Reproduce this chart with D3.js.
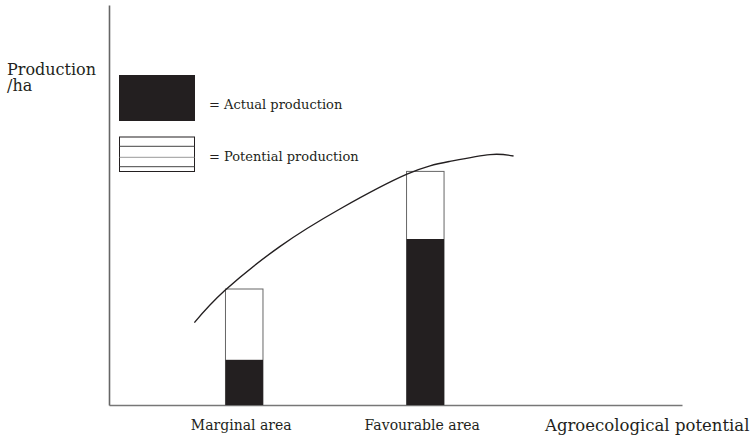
<!DOCTYPE html>
<html lang="en">
<head>
    <meta charset="UTF-8">
    <title>Agroecological potential</title>
    <script src="https://d3js.org/d3.v7.min.js"></script>
    <style>
        body { margin: 0; background: #fff; }
        text { font-family: "DejaVu Serif", serif; fill: #231f20; }
    </style>
</head>
<body>
    <svg></svg>

    <script>
        // data
        const areas = ['Marginal area', 'Favourable area'];
        const areaPotential = [23.6, 55.2];      // position along x (agroecological potential)
        const actualProd = [11.3, 41.5];
        const potentialProd = [29, 58.4];

        const curveX = [14.9, 20.2, 29.8, 40.3, 52.0, 59.5, 66.5, 70.6];
        const curveY = [20.6, 28.6, 39.6, 49.0, 57.7, 60.9, 62.6, 62.25];

        const width = 752;
        const height = 437;
        const margin = {'top': 5, 'bottom': 32, 'left': 109, 'right': 70};
        const ink = '#231f20';

        const svg = d3.select('svg')
            .attr('width', width)
            .attr('height', height)
            .attr('viewBox', [0, 0, width, height]);

        const x_scale = d3.scaleLinear().domain([0, 100]).range([margin.left, width - margin.right]);
        const y_scale = d3.scaleLinear().domain([0, 100]).range([height - margin.bottom, margin.top]);

        const barW = 37.5;

        // axes, no ticks
        svg.append('g')
            .attr('transform', `translate(0,${y_scale(0)})`)
            .call(d3.axisBottom(x_scale).tickValues([]).tickSizeOuter(0))
            .select('.domain').attr('stroke', '#777').attr('stroke-width', 1.6);

        svg.append('g')
            .attr('transform', `translate(${x_scale(0)},0)`)
            .call(d3.axisLeft(y_scale).tickValues([]).tickSizeOuter(0))
            .select('.domain').attr('stroke', '#666').attr('stroke-width', 1.6);

        // potential bars (outline)
        svg.selectAll('rect.pot')
            .data(areas)
            .join('rect')
            .attr('class', 'pot')
            .attr('x', (d, i) => x_scale(areaPotential[i]) - barW / 2)
            .attr('y', (d, i) => y_scale(potentialProd[i]))
            .attr('width', barW)
            .attr('height', (d, i) => y_scale(0) - y_scale(potentialProd[i]))
            .attr('fill', '#fff')
            .attr('stroke', '#666')
            .attr('stroke-width', 1);

        // actual bars
        svg.selectAll('rect.act')
            .data(areas)
            .join('rect')
            .attr('class', 'act')
            .attr('x', (d, i) => x_scale(areaPotential[i]) - barW / 2)
            .attr('y', (d, i) => y_scale(actualProd[i]))
            .attr('width', barW)
            .attr('height', (d, i) => y_scale(0) - y_scale(actualProd[i]))
            .attr('fill', ink);

        // curve
        const line = d3.line()
            .x((d, i) => x_scale(curveX[i]))
            .y((d, i) => y_scale(curveY[i]))
            .curve(d3.curveNatural);

        svg.append('path')
            .datum(curveX)
            .attr('d', line)
            .attr('fill', 'none')
            .attr('stroke', ink)
            .attr('stroke-width', 1.4);

        // category labels
        svg.selectAll('text.cat')
            .data(areas)
            .join('text')
            .attr('class', 'cat')
            .attr('x', (d, i) => x_scale(areaPotential[i]) - 3)
            .attr('y', 430)
            .attr('text-anchor', 'middle')
            .style('font-size', '14px')
            .text(d => d);

        svg.append('text')
            .attr('x', 545).attr('y', 431)
            .style('font-size', '16.5px')
            .text('Agroecological potential');

        // y title on two lines
        const yt = svg.append('text')
            .attr('x', 7).attr('y', 75)
            .style('font-size', '16px');
        yt.append('tspan').attr('x', 7).attr('y', 75).text('Production');
        yt.append('tspan').attr('x', 7).attr('y', 91).text('/ha');

        // legend
        const lg = svg.append('g');
        lg.append('rect')
            .attr('x', 119).attr('y', 75).attr('width', 76).attr('height', 46)
            .attr('fill', ink);
        lg.append('text')
            .attr('x', 209).attr('y', 109)
            .style('font-size', '13px')
            .text('= Actual production');

        lg.append('rect')
            .attr('x', 119.5).attr('y', 137).attr('width', 75).attr('height', 34.5)
            .attr('fill', '#fff').attr('stroke', ink).attr('stroke-width', 1);
        lg.selectAll('line')
            .data([146.3, 157.3, 166.7])
            .join('line')
            .attr('x1', 119.5).attr('x2', 194.5)
            .attr('y1', d => d).attr('y2', d => d)
            .attr('stroke', (d, i) => i == 1 ? '#999' : '#444')
            .attr('stroke-width', 1);
        lg.append('text')
            .attr('x', 209).attr('y', 161)
            .style('font-size', '13px')
            .text('= Potential production');
    </script>
</body>
</html>
